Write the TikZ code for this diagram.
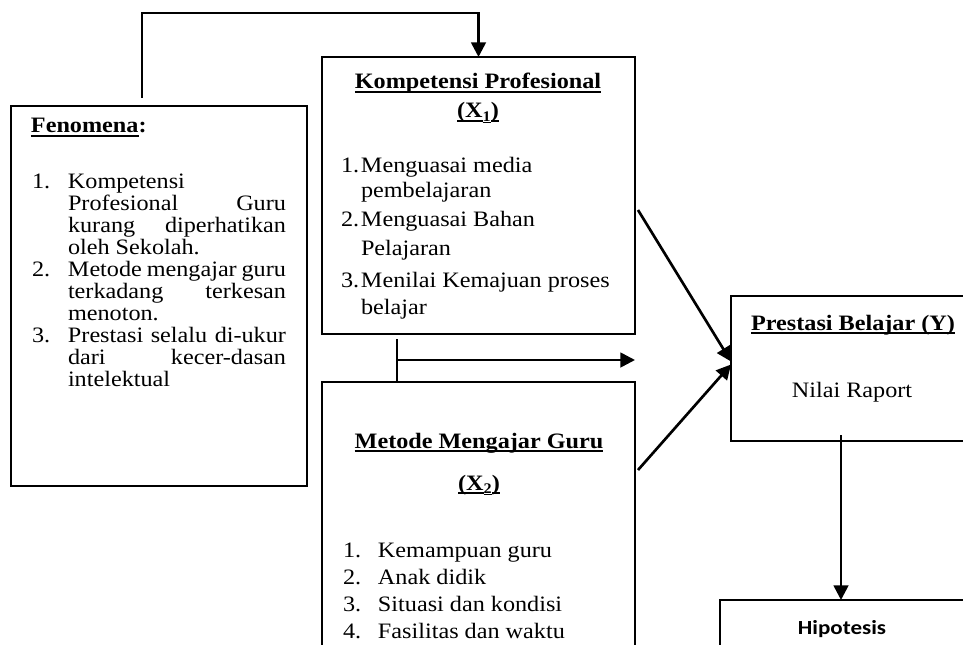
\documentclass[tikz,border=0pt]{standalone}
\usepackage{fontspec}
\setmainfont{Liberation Serif}[FakeStretch=1.1]
\newfontfamily\hipfont{Carlito}[FakeStretch=1.15]
\usetikzlibrary{arrows.meta,calc}
\newlength\px \setlength\px{0.75pt}
\newcommand\myul[1]{\setbox0\hbox{#1}\rlap{\rule[-3pt]{\wd0}{1.2pt}}\box0}
\newcommand\myulsub[1]{\raisebox{-2.5pt}{\setbox0\hbox{\fontsize{11pt}{11pt}\selectfont #1}\rlap{\rule[-1.5pt]{\wd0}{1.2pt}}\box0}}
\newcommand\fl[2]{\makebox[36\px][l]{#1}\makebox[218\px][s]{#2}}
\newcommand\fr[2]{\makebox[36\px][l]{#1}\makebox[218\px][l]{#2}}
\begin{document}
\begin{tikzpicture}[x=0.75pt,y=-0.75pt,
  every node/.style={inner sep=0pt,outer sep=0pt,font=\fontsize{16.5pt}{16.5pt}\selectfont},
  box/.style={draw,line width=1.3pt},
  conn/.style={line width=2pt},
  arr/.style={line width=2pt,-{Triangle[length=11pt,width=11pt]}},
  txt/.style={anchor=base west},
  ctxt/.style={anchor=base}]
\clip (0,0) rectangle (963,645);
% boxes
\node[box,minimum width=222pt,minimum height=285pt] (fen) at (159,296) {};
\node[box,minimum width=234.75pt,minimum height=207.75pt] (x1) at (478.5,195.5) {};
\node[box,minimum width=234.75pt,minimum height=238.5pt] (x2) at (478.5,541) {};
\node[box,minimum width=201.75pt,minimum height=108.75pt] (y) at (865.5,368.5) {};
\node[box,minimum width=210pt,minimum height=75pt] (hip) at (860,650) {};
% Fenomena text
\node[txt] (fent) at (31,133) {\textbf{\myul{Fenomena}:}};
\node[txt] (fenl) at (32,189) {\parbox[t]{260\px}{\fontsize{16.5pt}{16.5pt}\selectfont\parindent0pt
\fr{1.}{Kompetensi}\\
\fl{}{Profesional Guru}\\
\fl{}{kurang diperhatikan}\\
\fr{}{oleh Sekolah.}\\
\fl{2.}{Metode mengajar guru}\\
\fl{}{terkadang terkesan}\\
\fr{}{menoton.}\\
\fl{3.}{Prestasi selalu di-ukur}\\
\fl{}{dari kecer-dasan}\\
\fr{}{intelektual}}};
% X1 text
\node[ctxt] (x1t) at (478,89) {\textbf{\myul{Kompetensi Profesional}}};
\node[ctxt] (x1s) at (478,118) {\textbf{\myul{(X}\myulsub{1}\myul{)}}};
\node[txt] (x1a) at (341,173) {\parbox[t]{290\px}{\fontsize{16.5pt}{18.75pt}\selectfont\parindent0pt
\makebox[20\px][l]{1.}Menguasai media\\\makebox[20\px][l]{}pembelajaran}};
\node[txt] (x1b) at (341,227) {\parbox[t]{290\px}{\fontsize{16.5pt}{21.75pt}\selectfont\parindent0pt
\makebox[20\px][l]{2.}Menguasai Bahan\\\makebox[20\px][l]{}Pelajaran}};
\node[txt] (x1c) at (341,287) {\parbox[t]{290\px}{\fontsize{16.5pt}{20.25pt}\selectfont\parindent0pt
\makebox[20\px][l]{3.}Menilai Kemajuan proses\\\makebox[20\px][l]{}belajar}};
% X2 text
\node[ctxt] (x2t) at (479,448) {\textbf{\myul{Metode Mengajar Guru}}};
\node[ctxt] (x2s) at (479,490) {\textbf{\myul{(X}\myulsub{2}\myul{)}}};
\node[txt] (x2l) at (343,557) {\parbox[t]{290\px}{\fontsize{16.5pt}{20.25pt}\selectfont\parindent0pt
\makebox[35\px][l]{1.}Kemampuan guru\\
\makebox[35\px][l]{2.}Anak didik\\
\makebox[35\px][l]{3.}Situasi dan kondisi\\
\makebox[35\px][l]{4.}Fasilitas dan waktu}};
% Y text
\node[ctxt] (yt) at (853,330) {\textbf{\myul{Prestasi Belajar (Y)}}};
\node[ctxt] (ys) at (852,397) {Nilai Raport};
% Hipotesis
\node[ctxt] (hipt) at (842,634) {\hipfont\bfseries\fontsize{15pt}{16pt}\selectfont Hipotesis};
% connectors
\draw[arr] ($(fen.north west)+(131,-8)$) -- ++(0,-85) -| (x1.north);
\coordinate (j) at ($(x1.south west)!0.5!(x2.north west)+(75,2)$);
\draw[conn] ($(x1.south west)+(75,5)$) -- ($(x2.north west)+(75,1)$);
\draw[arr] (j) -- (j -| x1.east);
\draw[arr] ($(x1.north east)+(3,153)$) -- ($(y.west)+(0,-7)$);
\draw[arr] ($(x2.north east)+(3,88)$) -- ($(y.west)+(0,-4)$);
\draw[arr] ($(y.south west)+(110,-6)$) -- ($(hip.north west)+(121,0)$);
\end{tikzpicture}
\end{document}
